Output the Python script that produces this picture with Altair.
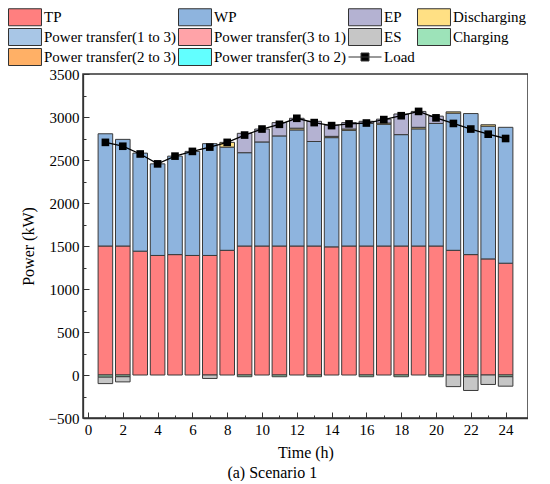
import altair as alt
import pandas as pd

hours = list(range(1, 25))
tp = [1500, 1500, 1440, 1390, 1400, 1390, 1390, 1450, 1500, 1500, 1500, 1500,
      1500, 1490, 1500, 1500, 1500, 1500, 1500, 1500, 1450, 1400, 1350, 1300]
wp = [1305, 1240, 1140, 1065, 1145, 1210, 1300, 1200, 1085, 1210, 1280, 1350,
      1215, 1270, 1345, 1425, 1415, 1295, 1362, 1425, 1595, 1640, 1543, 1580]
discharging = [0, 0, 0, 0, 0, 0, 0, 55, 0, 0, 0, 20,
               0, 15, 15, 0, 15, 0, 18, 0, 15, 0, 17, 0]
ep = [0, 0, 0, 0, 0, 0, 0, 0, 225, 150, 155, 115,
      235, 130, 75, 25, 45, 240, 185, 85, 0, 0, 0, 0]
charging = [-25, -20, 0, 0, 0, 0, 0, 0, -20, 0, -20, 0,
            -20, 0, 0, -20, 0, -20, 0, -20, 0, -20, 0, -20]
es = [-75, -60, 0, 0, 0, 0, -40, 0, 0, 0, 0, 0,
      0, 0, 0, 0, 0, 0, 0, 0, -135, -160, -110, -110]
load = [2705, 2660, 2570, 2455, 2545, 2600, 2650, 2705, 2790, 2860, 2915, 2985,
        2935, 2900, 2920, 2930, 2970, 3015, 3065, 2990, 2925, 2860, 2800, 2750]

# legend entries, listed column by column (4 columns x 3 rows)
legend_order = ["TP", "Power transfer(1 to 3)", "Power transfer(2 to 3)",
                "WP", "Power transfer(3 to 1)", "Power transfer(3 to 2)",
                "EP", "ES", "Load",
                "Discharging", "Charging"]
legend_colors = ["#FF7F7F", "#A8C6E6", "#FFB066",
                 "#8EB4DE", "#FFA3A8", "#62FFFF",
                 "#B4B2D2", "#C6C6C6", "#000000",
                 "#FFE084", "#9DE3B9"]

stack_series = [("TP", tp), ("WP", wp), ("Discharging", discharging),
                ("EP", ep), ("Charging", charging), ("ES", es)]
rows = []
for o, (name, vals) in enumerate(stack_series):
    for h, v in zip(hours, vals):
        if v != 0:
            rows.append({"hour": h, "series": name, "value": v, "ord": o})
bars_df = pd.DataFrame(rows)
load_df = pd.DataFrame({"hour": hours, "load": load})

FONT = "Liberation Serif"

x_axis = alt.Axis(
    values=list(range(0, 25)),
    labelExpr="datum.value % 2 === 0 ? datum.label : ''",
    format="d",
    tickSize=alt.ExprRef(expr="datum.value % 2 === 0 ? -6 : -3"),
    labelPadding=10,
    title="Time (h)",
    titlePadding=7,
    grid=False,
)
y_axis = alt.Axis(
    values=list(range(-500, 3501, 250)),
    labelExpr="datum.value % 500 === 0 ? datum.label : ''",
    format="d",
    tickSize=alt.ExprRef(expr="datum.value % 500 === 0 ? -6 : -3"),
    labelPadding=10,
    title="Power (kW)",
    titlePadding=12,
    grid=False,
)
x_scale = alt.Scale(domain=[0, 25], nice=False, zero=False)
y_scale = alt.Scale(domain=[-500, 3500], nice=False)

legend = alt.Legend(
    orient="none",
    legendX=-74.5,
    legendY=-66,
    columns=4,
    title=None,
    symbolType=alt.ExprRef(
        expr="datum.value === 'Load' ? 'M-1.94,0H1.94M-0.47,-0.47H0.47V0.47H-0.47Z' : 'M-1.94,-1H1.94V1H-1.94Z'"
    ),
    symbolSize=289,
    symbolOffset=7.5,
    symbolStrokeColor="#333333",
    symbolStrokeWidth=1,
    symbolOpacity=1,
    labelFont=FONT,
    labelFontSize=15,
    labelColor="black",
    labelOffset=10,
    labelLimit=400,
    columnPadding=0,
    rowPadding=-2.5,
    padding=0,
)

bars = alt.Chart(bars_df).mark_bar(
    width=14.6, stroke="#3a3a3a", strokeWidth=1
).encode(
    x=alt.X("hour:Q", scale=x_scale, axis=x_axis),
    y=alt.Y("value:Q", stack="zero", scale=y_scale, axis=y_axis),
    fill=alt.Fill("series:N", scale=alt.Scale(domain=legend_order, range=legend_colors),
                  legend=legend),
    order=alt.Order("ord:Q", sort="ascending"),
)

line = alt.Chart(load_df).mark_line(color="black", strokeWidth=1.3).encode(
    x=alt.X("hour:Q", scale=x_scale, axis=x_axis),
    y=alt.Y("load:Q", scale=y_scale, axis=y_axis),
)
pts = alt.Chart(load_df).mark_square(color="black", filled=True, size=58, opacity=1).encode(
    x=alt.X("hour:Q", scale=x_scale, axis=x_axis),
    y=alt.Y("load:Q", scale=y_scale, axis=y_axis),
)

chart = alt.layer(bars, line, pts).properties(
    width=445,
    height=344,
    padding=0,
    title=alt.TitleParams(
        text="(a) Scenario 1", orient="bottom", anchor="middle", frame="bounds",
        font=FONT, fontSize=16, fontWeight="normal", color="black", offset=5, dx=4,
    ),
).configure_view(
    stroke="#333333", strokeWidth=1.5
).configure_axis(
    domainColor="#333333", domainWidth=1.3, tickColor="#333333", tickWidth=1,
    labelFont=FONT, labelFontSize=15, labelColor="black",
    titleFont=FONT, titleFontSize=16, titleFontWeight="normal", titleColor="black",
)

chart.save("out.html", embed_options={"renderer": "svg", "actions": False})
